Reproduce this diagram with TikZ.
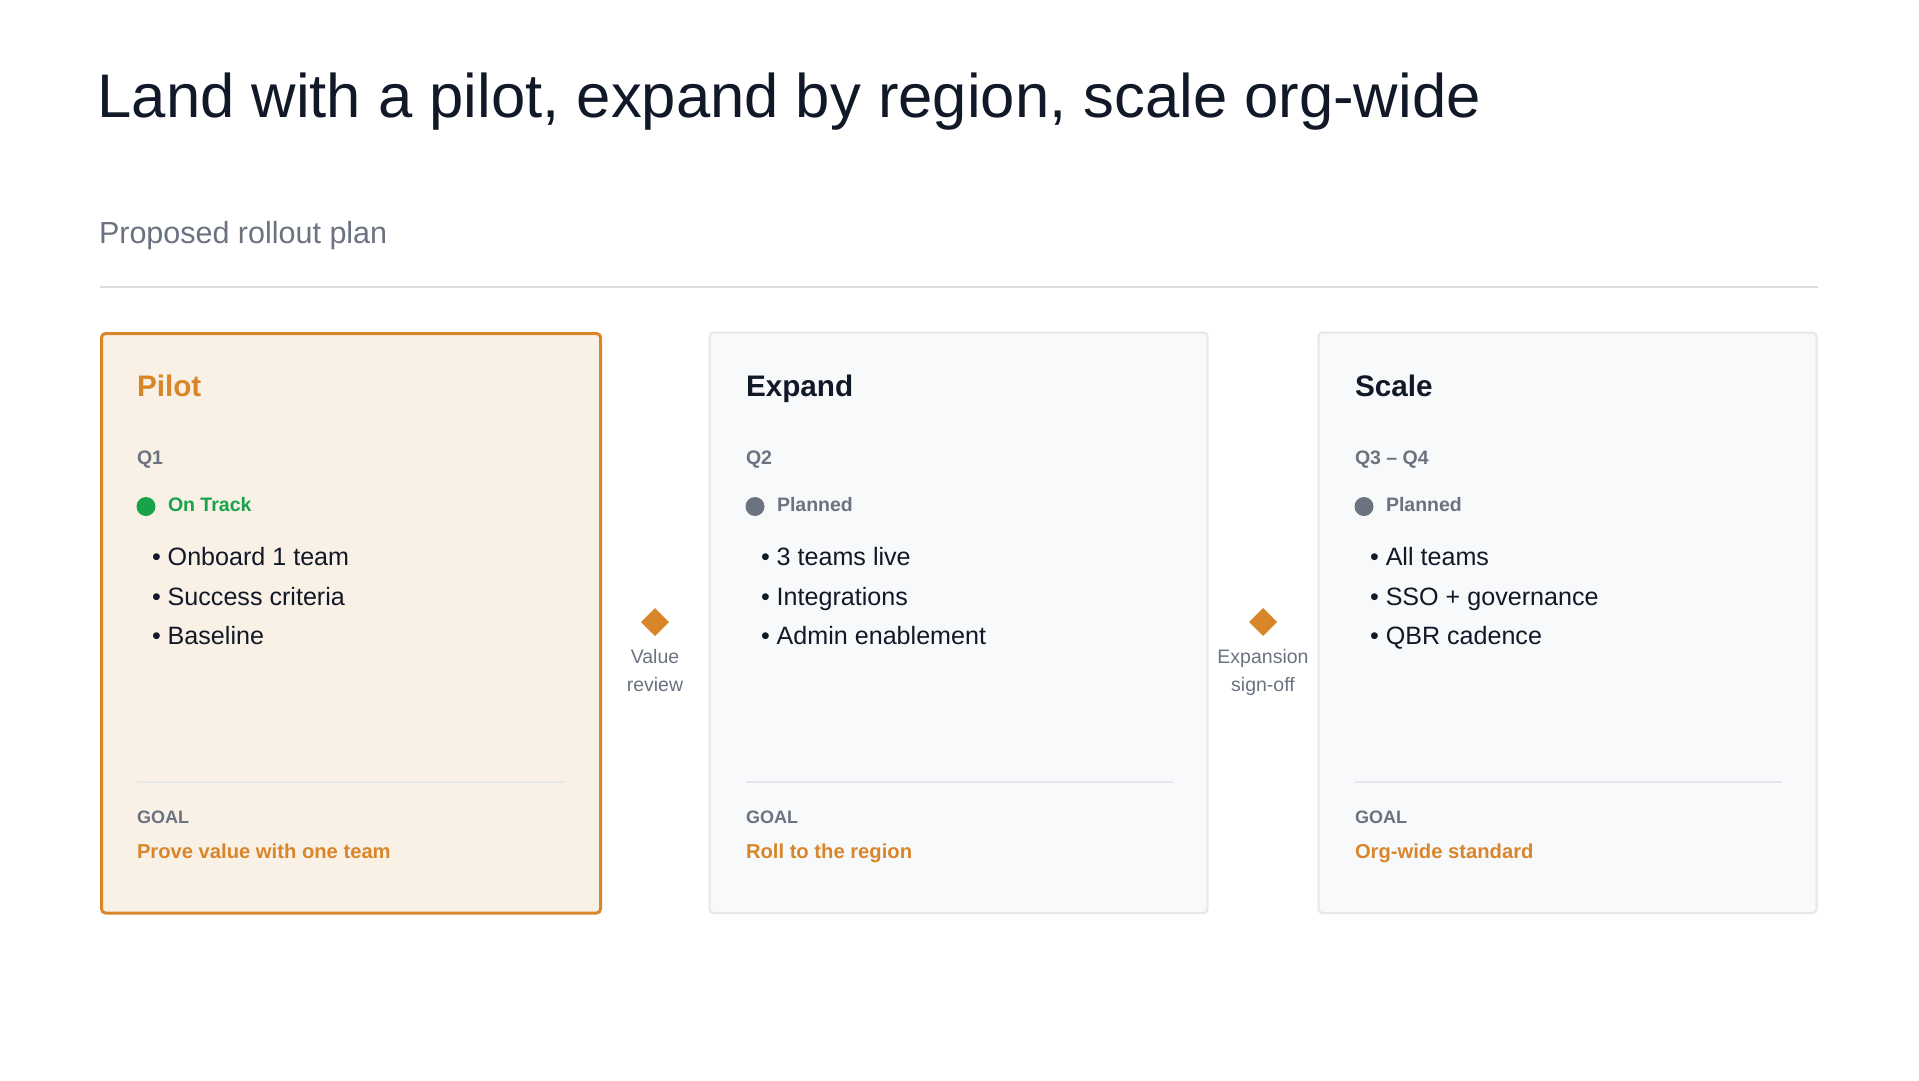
\documentclass[tikz,border=0pt]{standalone}
\usepackage{fontspec}
\setmainfont{Liberation Sans}
\definecolor{ink}{HTML}{111827}
\definecolor{muted}{HTML}{6B7280}
\definecolor{accent}{HTML}{D9862B}
\definecolor{okgreen}{HTML}{16A34A}
\definecolor{cardfill}{HTML}{F8F9FB}
\definecolor{cardline}{HTML}{E5E7EB}
\definecolor{pilotfill}{HTML}{FAF1E6}
\definecolor{rulegray}{HTML}{D9DCE1}
\newcommand\pxsize[1]{\fontsize{#1}{#1}\selectfont}
\begin{document}
\begin{tikzpicture}[x=1pt,y=-1pt,
  txt/.style={anchor=base west, inner sep=0pt, outer sep=0pt},
  rtitle/.style={txt, text=ink, font=\pxsize{61.6}},
  rsub/.style={txt, text=muted, font=\pxsize{30.5}},
  cardhead/.style={txt, font=\bfseries\pxsize{29.7}},
  quarterlbl/.style={txt, text=muted, font=\bfseries\pxsize{19.5}},
  statuslbl/.style={txt, font=\bfseries\pxsize{19.5}},
  bulletitem/.style={txt, text=ink, font=\pxsize{25.1}},
  goallbl/.style={txt, text=muted, font=\bfseries\pxsize{18}},
  goaltxt/.style={txt, text=accent, font=\bfseries\pxsize{20.2}},
  milestone/.style={rectangle, rotate=45, fill=accent, minimum width=19.8pt, minimum height=19.8pt, inner sep=0pt},
  mslbl/.style={anchor=base, inner sep=0pt, text=muted, font=\pxsize{19.5}},
  statusdot/.style={circle, minimum size=19pt, inner sep=0pt},
  plaincard/.style={rectangle, anchor=north west, draw=cardline, line width=2pt, fill=cardfill, rounded corners=4pt, minimum width=498pt, minimum height=580.5pt, inner sep=0pt},
  pilotbox/.style={rectangle, anchor=north west, draw=accent, line width=3pt, fill=pilotfill, rounded corners=4pt, minimum width=499pt, minimum height=579.5pt, inner sep=0pt},
  divider/.style={draw=cardline, line width=2pt},
]
\fill[white] (0,0) rectangle (1919,1080);
\useasboundingbox (0,0) rectangle (1919,1080);

% header
\node[rtitle] (title) at (97.5,117) {Land with a pilot, expand by region, scale org-wide};
\node[rsub] (subtitle) at (99,243) {Proposed rollout plan};
\draw[rulegray, line width=2.5pt] (100,287) -- (1818,287);

% cards
\node[pilotbox] (pilot) at (100,332) {};
\node[plaincard] (expand) at (708.5,331.5) {};
\node[plaincard] (scale) at (1317.5,331.5) {};

% Pilot content
\node[cardhead, text=accent] (pilotT) at (137,396) {Pilot};
\node[quarterlbl] (pilotQ) at (137,464.5) {Q1};
\node[statusdot, fill=okgreen] (pilotD) at (146,506.5) {};
\node[statuslbl, text=okgreen] (pilotS) at (168,511.5) {On Track};
\node[bulletitem] (pilotB1) at (152,565) {• Onboard 1 team};
\node[bulletitem] (pilotB2) at (152,605) {• Success criteria};
\node[bulletitem] (pilotB3) at (152,644.5) {• Baseline};
\draw[divider] (137,782) -- (564,782);
\node[goallbl] (pilotGL) at (137,823.5) {GOAL};
\node[goaltxt] (pilotG) at (137,858) {Prove value with one team};

% Expand content
\node[cardhead, text=ink] (expandT) at (746,396) {Expand};
\node[quarterlbl] (expandQ) at (746,464.5) {Q2};
\node[statusdot, fill=muted] (expandD) at (755,506.5) {};
\node[statuslbl, text=muted] (expandS) at (777,511.5) {Planned};
\node[bulletitem] (expandB1) at (761,565) {• 3 teams live};
\node[bulletitem] (expandB2) at (761,605) {• Integrations};
\node[bulletitem] (expandB3) at (761,644.5) {• Admin enablement};
\draw[divider] (746,782) -- (1173,782);
\node[goallbl] (expandGL) at (746,823.5) {GOAL};
\node[goaltxt] (expandG) at (746,858) {Roll to the region};

% Scale content
\node[cardhead, text=ink] (scaleT) at (1355,396) {Scale};
\node[quarterlbl] (scaleQ) at (1355,464.5) {Q3 – Q4};
\node[statusdot, fill=muted] (scaleD) at (1364,506.5) {};
\node[statuslbl, text=muted] (scaleS) at (1386,511.5) {Planned};
\node[bulletitem] (scaleB1) at (1370,565) {• All teams};
\node[bulletitem] (scaleB2) at (1370,605) {• SSO + governance};
\node[bulletitem] (scaleB3) at (1370,644.5) {• QBR cadence};
\draw[divider] (1355,782) -- (1782,782);
\node[goallbl] (scaleGL) at (1355,823.5) {GOAL};
\node[goaltxt] (scaleG) at (1355,858) {Org-wide standard};

% milestones
\node[milestone] (ms1) at (655,622) {};
\node[mslbl] (ms1a) at (655,663) {Value};
\node[mslbl] (ms1b) at (655,691) {review};
\node[milestone] (ms2) at (1263,622) {};
\node[mslbl] (ms2a) at (1263,663) {Expansion};
\node[mslbl] (ms2b) at (1263,691) {sign-off};
\end{tikzpicture}
\end{document}
